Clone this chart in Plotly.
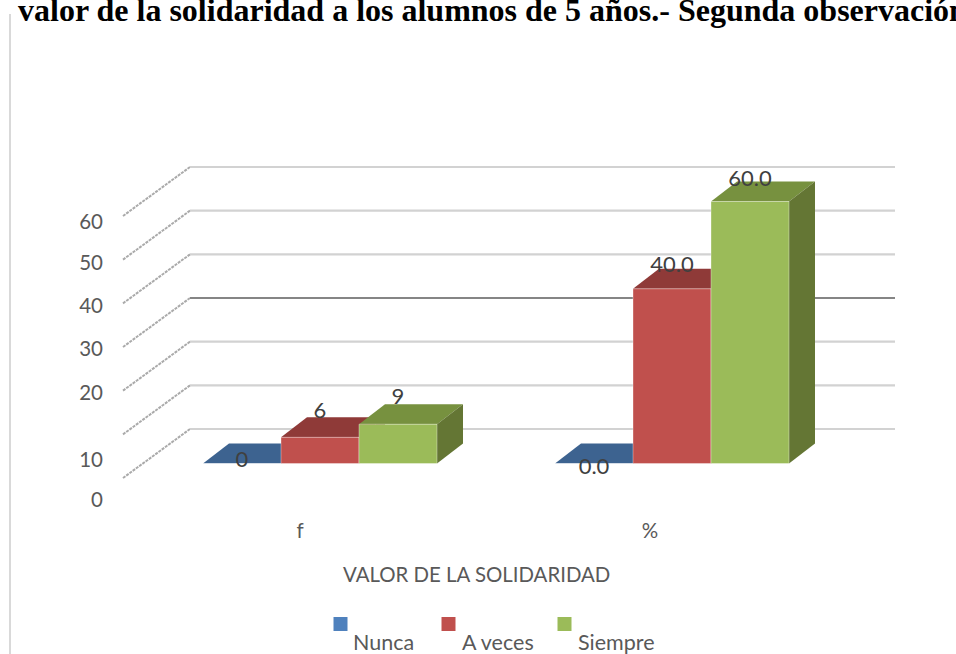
import plotly.graph_objects as go

# Data
categories = ["f", "%"]
series_names = ["Nunca", "A veces", "Siempre"]
nunca = [0, 0.0]
a_veces = [6, 40.0]
siempre = [9, 60.0]
label_text = [["0", "0.0"], ["6", "40.0"], ["9", "60.0"]]
# how far above the bar top each value label sits (value units)
label_lift = [[0.4, -1.2], [5.7, 5.0], [5.9, 4.8]]
gridline_values = [0, 10, 20, 30, 40, 50, 60]
ytick_labels = ["0", "10", "20", "30", "40", "50", "60"]
ytick_positions = [-8.26, 0.85, 16.3, 26.25, 36.15, 45.95, 55.44]

W, H = 956, 654
BASE_PY, PX_PER_UNIT = 463.5, 4.367
GROUP0_PX, GROUP_STEP = 320.0, 352.0

def xval(px):
    return (px - GROUP0_PX) / GROUP_STEP

def ylen(py):
    return py / PX_PER_UNIT

xrange_ = [xval(0), xval(W)]
yrange_ = [(BASE_PY - H) / PX_PER_UNIT, BASE_PY / PX_PER_UNIT]

BAR_W = 78 / GROUP_STEP
DEPTH_X, DEPTH_Y = 26 / GROUP_STEP, ylen(20)
WALL_BACK_X, WALL_FRONT_X, WALL_RIGHT_X = xval(190), xval(123), xval(895)
WALL_BACK_Y, WALL_FRONT_Y = ylen(34.5), ylen(-14.5)

front_cols = ["#4F81BD", "#C0504D", "#9BBB59"]
top_cols = ["#3D6390", "#8F3A38", "#77913F"]
side_cols = ["#35577F", "#7E3432", "#647634"]

fig = go.Figure()

# gridlines on the walls
for v in gridline_values:
    y_back = v + WALL_BACK_Y
    fig.add_trace(go.Scatter(x=[WALL_FRONT_X, WALL_BACK_X], y=[v + WALL_FRONT_Y, y_back], mode="lines",
                             line=dict(color="#aaaaaa", width=2, dash="3px 1px"), showlegend=False, hoverinfo="skip"))
    dark = v == 30
    fig.add_trace(go.Scatter(x=[WALL_BACK_X, WALL_RIGHT_X], y=[y_back, y_back], mode="lines",
                             line=dict(color="#858585" if dark else "#d2d2d2", width=2 if dark else 2.2),
                             showlegend=False, hoverinfo="skip"))

all_values = [nunca, a_veces, siempre]

# depth faces (under the front faces)
for s, vals in enumerate(all_values):
    for g, v in enumerate(vals):
        left = g + (s - 1) * BAR_W - BAR_W / 2
        right = left + BAR_W
        fig.add_trace(go.Scatter(
            x=[left, right, right + DEPTH_X, left + DEPTH_X, left],
            y=[v, v, v + DEPTH_Y, v + DEPTH_Y, v],
            mode="lines", fill="toself", fillcolor=top_cols[s], line=dict(width=0),
            showlegend=False, hoverinfo="skip"))
        fig.add_trace(go.Scatter(
            x=[right, right + DEPTH_X, right + DEPTH_X, right, right],
            y=[0, DEPTH_Y, v + DEPTH_Y, v, 0],
            mode="lines", fill="toself", fillcolor=side_cols[s], line=dict(width=0),
            showlegend=False, hoverinfo="skip"))

# front faces on an overlaid pair of axes so they cover the depth faces
for s, vals in enumerate(all_values):
    fig.add_trace(go.Bar(
        x=[g + (s - 1) * BAR_W for g in range(len(categories))], y=vals, width=BAR_W,
        marker=dict(color=front_cols[s], line=dict(color="rgba(255,255,255,0.35)", width=1)),
        name=series_names[s], xaxis="x2", yaxis="y2", showlegend=False))

# value labels
for s, vals in enumerate(all_values):
    fig.add_trace(go.Scatter(
        x=[g + (s - 1) * BAR_W for g in range(len(categories))],
        y=[v + label_lift[s][g] for g, v in enumerate(vals)],
        text=label_text[s], mode="text", textposition="middle center",
        textfont=dict(family="Lato", size=22, color="#404040"),
        xaxis="x2", yaxis="y2", showlegend=False, hoverinfo="skip"))

# legend swatches
legend_x = [xval(340.5), xval(448.5), xval(564.5)]
fig.add_trace(go.Scatter(
    x=legend_x, y=[ylen(BASE_PY - 624)] * 3, mode="markers",
    marker=dict(symbol="square", size=14, color=front_cols),
    xaxis="x2", yaxis="y2", showlegend=False, hoverinfo="skip"))

axis_font = dict(family="Lato", size=20.5, color="#595959")
annotations = [
    dict(text="<b>valor de la solidaridad a los alumnos de 5 años.- Segunda observación</b>",
         xref="paper", yref="paper", x=16 / W, y=1 - 9.5 / H, xanchor="left", yanchor="middle",
         showarrow=False, font=dict(family="Liberation Serif", size=32, color="#000000")),
    dict(text="VALOR DE LA SOLIDARIDAD", xref="paper", yref="paper", x=476 / W, y=1 - 574 / H,
         xanchor="center", yanchor="middle", showarrow=False,
         font=dict(family="Lato", size=20.4, color="#595959")),
]
for name, px in zip(series_names, [383.5, 498, 616]):
    annotations.append(dict(text=name, xref="paper", yref="paper", x=px / W, y=1 - 642 / H,
                            xanchor="center", yanchor="middle", showarrow=False,
                            font=dict(family="Lato", size=21.5, color="#595959")))

fig.update_layout(
    width=W, height=H, autosize=False, margin=dict(l=0, r=0, t=0, b=0),
    paper_bgcolor="white", plot_bgcolor="white", barmode="overlay",
    showlegend=False, annotations=annotations,
    shapes=[dict(type="line", xref="paper", yref="paper", x0=10 / W, x1=10 / W, y0=0, y1=1 - 14 / H,
                 line=dict(color="#d9d9d9", width=2))],
    xaxis=dict(domain=[0, 1], range=xrange_, showgrid=False, zeroline=False, showline=False,
               tickvals=[xval(300), xval(650)], ticktext=categories, ticks="",
               anchor="free", position=1 - 516 / H, tickfont=axis_font),
    yaxis=dict(domain=[0, 1], range=yrange_, showgrid=False, zeroline=False, showline=False,
               tickvals=ytick_positions, ticktext=ytick_labels, ticks="",
               anchor="free", position=103 / W, tickfont=axis_font),
    xaxis2=dict(overlaying="x", range=xrange_, visible=False, anchor="y2"),
    yaxis2=dict(overlaying="y", range=yrange_, visible=False, anchor="x2"),
)

fig.write_html("out.html", config={"displayModeBar": False},
               post_script="document.body.style.margin='0';document.documentElement.style.overflow='hidden';")
